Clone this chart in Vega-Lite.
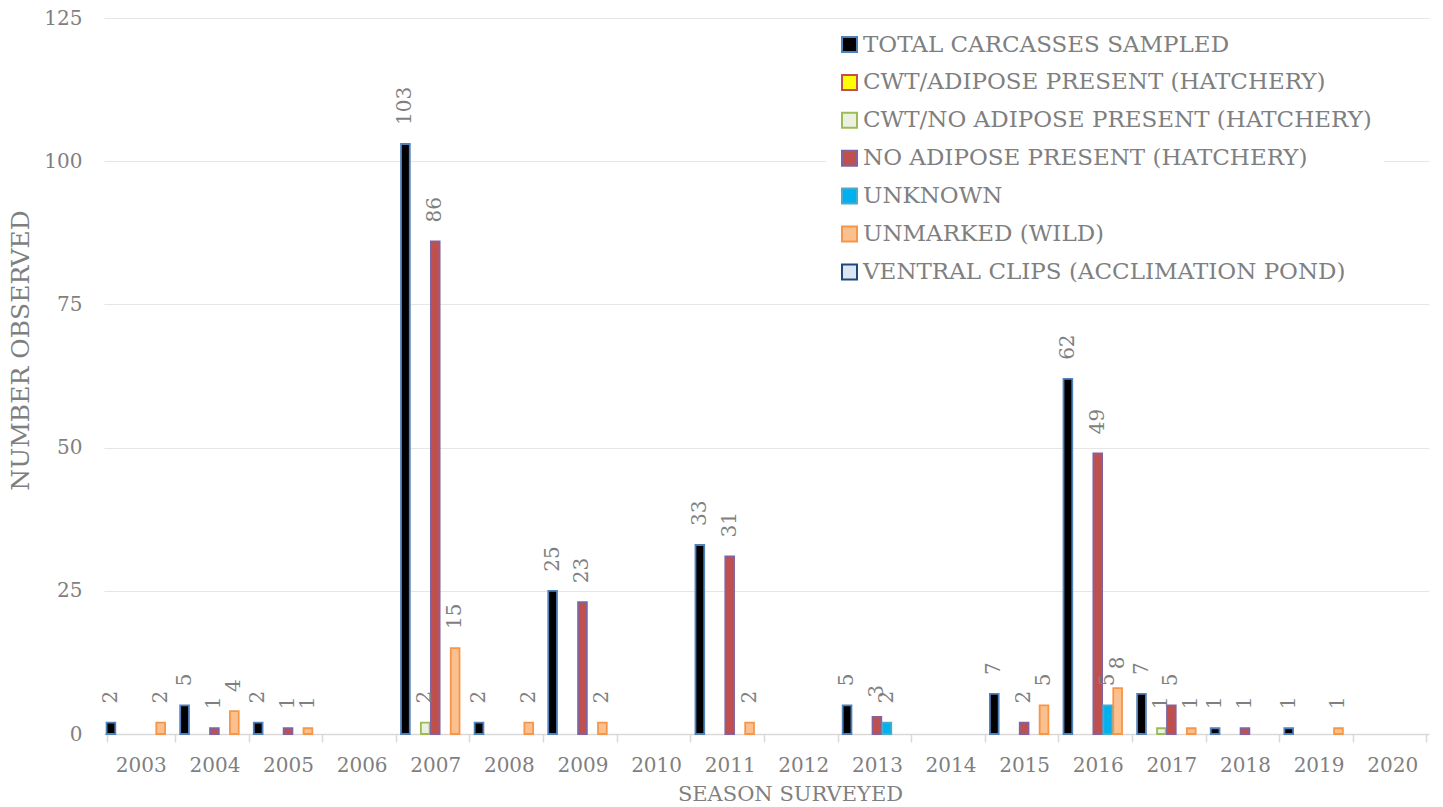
{
  "$schema": "https://vega.github.io/schema/vega-lite/v6.json",
  "width": 1325,
  "height": 716,
  "autosize": "none",
  "padding": {"left": 104, "top": 18, "right": 14, "bottom": 73},
  "background": "white",
  "config": {
    "view": {"stroke": null},
    "font": "DejaVu Serif"
  },
  "data": {
    "values": [
      {"year": "2003", "series": "TOTAL CARCASSES SAMPLED", "value": 2},
      {"year": "2003", "series": "UNMARKED (WILD)", "value": 2},
      {"year": "2004", "series": "TOTAL CARCASSES SAMPLED", "value": 5},
      {"year": "2004", "series": "NO ADIPOSE PRESENT (HATCHERY)", "value": 1},
      {"year": "2004", "series": "UNMARKED (WILD)", "value": 4},
      {"year": "2005", "series": "TOTAL CARCASSES SAMPLED", "value": 2},
      {"year": "2005", "series": "NO ADIPOSE PRESENT (HATCHERY)", "value": 1},
      {"year": "2005", "series": "UNMARKED (WILD)", "value": 1},
      {"year": "2007", "series": "TOTAL CARCASSES SAMPLED", "value": 103},
      {"year": "2007", "series": "CWT/NO ADIPOSE PRESENT (HATCHERY)", "value": 2},
      {"year": "2007", "series": "NO ADIPOSE PRESENT (HATCHERY)", "value": 86},
      {"year": "2007", "series": "UNMARKED (WILD)", "value": 15},
      {"year": "2008", "series": "TOTAL CARCASSES SAMPLED", "value": 2},
      {"year": "2008", "series": "UNMARKED (WILD)", "value": 2},
      {"year": "2009", "series": "TOTAL CARCASSES SAMPLED", "value": 25},
      {"year": "2009", "series": "NO ADIPOSE PRESENT (HATCHERY)", "value": 23},
      {"year": "2009", "series": "UNMARKED (WILD)", "value": 2},
      {"year": "2011", "series": "TOTAL CARCASSES SAMPLED", "value": 33},
      {"year": "2011", "series": "NO ADIPOSE PRESENT (HATCHERY)", "value": 31},
      {"year": "2011", "series": "UNMARKED (WILD)", "value": 2},
      {"year": "2013", "series": "TOTAL CARCASSES SAMPLED", "value": 5},
      {"year": "2013", "series": "NO ADIPOSE PRESENT (HATCHERY)", "value": 3},
      {"year": "2013", "series": "UNKNOWN", "value": 2},
      {"year": "2015", "series": "TOTAL CARCASSES SAMPLED", "value": 7},
      {"year": "2015", "series": "NO ADIPOSE PRESENT (HATCHERY)", "value": 2},
      {"year": "2015", "series": "UNMARKED (WILD)", "value": 5},
      {"year": "2016", "series": "TOTAL CARCASSES SAMPLED", "value": 62},
      {"year": "2016", "series": "NO ADIPOSE PRESENT (HATCHERY)", "value": 49},
      {"year": "2016", "series": "UNKNOWN", "value": 5},
      {"year": "2016", "series": "UNMARKED (WILD)", "value": 8},
      {"year": "2017", "series": "TOTAL CARCASSES SAMPLED", "value": 7},
      {"year": "2017", "series": "CWT/NO ADIPOSE PRESENT (HATCHERY)", "value": 1},
      {"year": "2017", "series": "NO ADIPOSE PRESENT (HATCHERY)", "value": 5},
      {"year": "2017", "series": "UNMARKED (WILD)", "value": 1},
      {"year": "2018", "series": "TOTAL CARCASSES SAMPLED", "value": 1},
      {"year": "2018", "series": "NO ADIPOSE PRESENT (HATCHERY)", "value": 1},
      {"year": "2019", "series": "TOTAL CARCASSES SAMPLED", "value": 1},
      {"year": "2019", "series": "UNMARKED (WILD)", "value": 1}
    ]
  },
  "encoding": {
    "x": {
      "field": "year",
      "type": "nominal",
      "scale": {
        "domain": ["2003","2004","2005","2006","2007","2008","2009","2010","2011","2012","2013","2014","2015","2016","2017","2018","2019","2020"],
        "paddingInner": 0.07,
        "paddingOuter": 0.035
      },
      "axis": {
        "title": "SEASON SURVEYED",
        "titleFont": "DejaVu Serif",
        "titleFontSize": 21,
        "titleFontWeight": "normal",
        "titleColor": "#7f7f7f",
        "titleX": 686,
        "titleY": 60,
        "titleAlign": "center",
        "titleBaseline": "middle",
        "labelFont": "DejaVu Serif",
        "labelFontSize": 20,
        "labelColor": "#7f7f7f",
        "labelAngle": 0,
        "labelPadding": 13,
        "tickBand": "extent",
        "tickSize": 8,
        "tickColor": "#d9d9d9",
        "tickWidth": 1.5,
        "domainColor": "#d9d9d9",
        "domainWidth": 1.5,
        "grid": false
      }
    },
    "xOffset": {
      "field": "series",
      "type": "nominal",
      "scale": {
        "domain": ["TOTAL CARCASSES SAMPLED","CWT/ADIPOSE PRESENT (HATCHERY)","CWT/NO ADIPOSE PRESENT (HATCHERY)","NO ADIPOSE PRESENT (HATCHERY)","UNKNOWN","UNMARKED (WILD)","VENTRAL CLIPS (ACCLIMATION POND)"],
        "paddingInner": 0.12,
        "paddingOuter": 0
      }
    },
    "y": {
      "field": "value",
      "type": "quantitative",
      "scale": {"domain": [0, 125], "nice": false},
      "axis": {
        "title": "NUMBER OBSERVED",
        "titleFont": "DejaVu Serif",
        "titleFontSize": 25,
        "titleFontWeight": "normal",
        "titleColor": "#7f7f7f",
        "titleX": -84,
        "titleY": 332,
        "titleAngle": 270,
        "titleAlign": "center",
        "titleBaseline": "middle",
        "values": [0, 25, 50, 75, 100, 125],
        "labelFont": "DejaVu Serif",
        "labelFontSize": 20,
        "labelColor": "#7f7f7f",
        "labelPadding": 22,
        "ticks": false,
        "domain": false,
        "gridColor": "#e6e6e6",
        "gridWidth": 1.2
      }
    }
  },
  "layer": [
    {
      "mark": {"type": "bar", "strokeWidth": 1.8},
      "encoding": {
        "fill": {
          "field": "series",
          "type": "nominal",
          "scale": {
            "domain": ["TOTAL CARCASSES SAMPLED","CWT/ADIPOSE PRESENT (HATCHERY)","CWT/NO ADIPOSE PRESENT (HATCHERY)","NO ADIPOSE PRESENT (HATCHERY)","UNKNOWN","UNMARKED (WILD)","VENTRAL CLIPS (ACCLIMATION POND)"],
            "range": ["#000000","#ffff00","#ebf1de","#c0504d","#00b0f0","#fac090","#dce6f2"]
          },
          "legend": {
            "title": null,
            "orient": "none",
            "legendX": 722,
            "legendY": 3,
            "padding": 12,
            "fillColor": "white",
            "symbolType": "square",
            "symbolSize": 225,
            "symbolStrokeWidth": 2,
            "labelFont": "DejaVu Serif",
            "labelFontSize": 23,
            "labelColor": "#7f7f7f",
            "labelOffset": 2,
            "labelLimit": 700,
            "rowPadding": 13.9
          }
        },
        "stroke": {
          "field": "series",
          "type": "nominal",
          "scale": {
            "domain": ["TOTAL CARCASSES SAMPLED","CWT/ADIPOSE PRESENT (HATCHERY)","CWT/NO ADIPOSE PRESENT (HATCHERY)","NO ADIPOSE PRESENT (HATCHERY)","UNKNOWN","UNMARKED (WILD)","VENTRAL CLIPS (ACCLIMATION POND)"],
            "range": ["#4f81bd","#c0504d","#9bbb59","#8064a2","#4bacc6","#f79646","#1f497d"]
          },
          "legend": {
            "title": null,
            "orient": "none",
            "legendX": 722,
            "legendY": 3,
            "padding": 12,
            "fillColor": "white",
            "symbolType": "square",
            "symbolSize": 225,
            "symbolStrokeWidth": 2,
            "labelFont": "DejaVu Serif",
            "labelFontSize": 23,
            "labelColor": "#7f7f7f",
            "labelOffset": 2,
            "labelLimit": 700,
            "rowPadding": 13.9
          }
        }
      }
    },
    {
      "mark": {
        "type": "text",
        "angle": 270,
        "align": "left",
        "baseline": "middle",
        "dx": 19,
        "fontSize": 20,
        "font": "DejaVu Serif",
        "fill": "#7f7f7f"
      },
      "encoding": {
        "text": {"field": "value", "type": "quantitative"}
      }
    }
  ]
}
